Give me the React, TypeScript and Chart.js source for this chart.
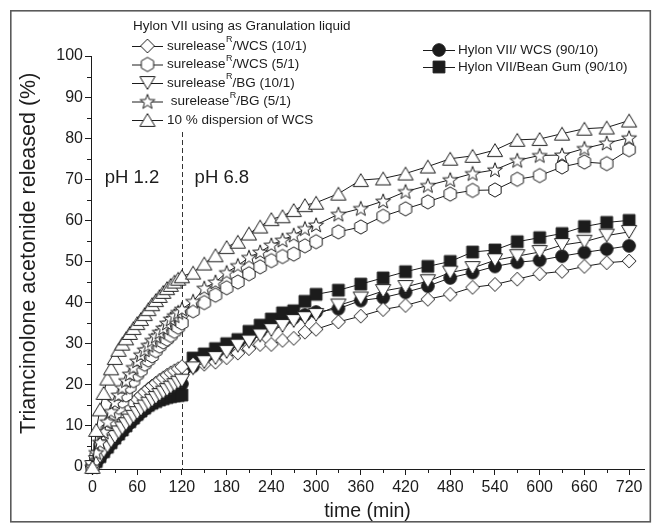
import React, { useEffect, useRef } from 'react';
import { Chart, registerables } from 'chart.js';

Chart.register(...registerables);

// ---------------- data ----------------
const timeMin = [
  0, 5, 10, 15, 20, 25, 30, 35, 40, 45, 50, 55, 60, 65, 70, 75, 80, 85, 90, 95, 100, 105, 110, 115, 120,
  135, 150, 165, 180, 195, 210, 225, 240, 255, 270, 285, 300,
  330, 360, 390, 420, 450, 480, 510, 540, 570, 600, 630, 660, 690, 720,
];

const sureleaseWcs10 = [
  0, 1.8, 3.5, 5, 6.8, 8, 9.5, 11, 12.3, 13.5, 14.5, 15.5, 16.5, 17.4, 18.2, 19, 19.7, 20.4, 21.1, 21.7, 22.3, 22.9, 23.4, 23.9, 24.4,
  25, 25, 25.5, 26.6, 27.7, 28.8, 29.8, 29.8, 30.8, 31.3, 32.8, 33.5,
  35.3, 36.7, 38.3, 39.3, 40.8, 42, 43.7, 44.4, 45.7, 47, 47.6, 48.8, 49.7, 50.1,
];

const sureleaseWcs5 = [
  0, 2.5, 5, 7, 9, 11, 13, 14.5, 16, 17.5, 19.5, 21, 22.5, 23.5, 25, 26, 27, 28.3, 29.4, 30.4, 31.1, 32, 33, 34, 35,
  38, 40, 41.8, 43.6, 45, 47, 48.7, 50.2, 51.2, 51.8, 53.8, 54.8,
  57.2, 58.4, 61, 62.8, 64.5, 66.4, 67.3, 67.4, 70, 70.9, 73, 74.2, 73.8, 77.2,
];

const sureleaseBg10 = [
  0, 1.2, 2.5, 3.8, 5, 6.2, 7.3, 8.4, 9.4, 10.4, 11.3, 12.2, 13.1, 13.9, 14.7, 15.4, 16.1, 16.8, 17.5, 18.1, 18.7, 19.3, 19.9, 20.5, 21,
  24, 25.5, 26.5, 28, 29.5, 30.5, 32, 33.3, 34.3, 35.5, 36.2, 37,
  39.3, 41, 42.8, 43.8, 45.2, 47.3, 48.4, 50.3, 51.3, 52.3, 54, 54.8, 56.3, 57.2,
];

const sureleaseBg5 = [
  0, 3.5, 6, 8.5, 11, 13.5, 15.8, 17.5, 19.3, 21, 22.6, 24.2, 25.8, 27.3, 28.5, 29.6, 30.8, 31.8, 32.8, 33.8, 35, 36, 36.8, 37.6, 38.4,
  40.3, 43.5, 45, 47.3, 49, 51, 52.3, 54, 55.2, 56.4, 58, 58.9,
  61.5, 62.9, 64.7, 67, 68.5, 69.9, 71.4, 72.3, 74.6, 75.8, 75.9, 77.5, 78.8, 80.1,
];

const dispersionWcs10 = [
  0, 9, 14, 18, 21.5, 24, 26.5, 28.5, 30, 31.3, 32.6, 33.8, 35, 36, 37.2, 38.4, 39.6, 40.6, 41.6, 42.6, 43.5, 44.3, 45.1, 45.8, 46.4,
  47.3, 49.5, 51.5, 53.5, 54.8, 56.8, 58.5, 60.3, 61, 62.5, 63.7, 64.3,
  66.5, 69.8, 70.2, 71.4, 73.1, 75, 75.7, 77.1, 79.6, 79.8, 81.1, 82.3, 82.6, 84.3,
];

const hylonWcs = [
  0, 1.1, 2.3, 3.5, 4.6, 5.7, 6.8, 7.8, 8.8, 9.8, 10.7, 11.6, 12.5, 13.3, 14.1, 14.8, 15.5, 16.2, 16.9, 17.5, 18.1, 18.7, 19.2, 19.7, 20.2,
  24.5, 26, 27.5, 29, 30.5, 31.5, 33, 34.5, 35.5, 36.3, 37, 37.7,
  38.5, 40.5, 41.2, 42.5, 44, 46, 47.3, 48.8, 49.8, 50.3, 51.3, 52.2, 53, 53.8,
];

const hylonBeanGum = [
  0, 1.3, 2.5, 3.7, 4.8, 5.9, 7, 8, 9, 10, 11, 11.9, 12.8, 13.6, 14.3, 15, 15.5, 15.9, 16.3, 16.6, 16.9, 17.1, 17.3, 17.4, 17.5,
  26.5, 27.5, 28.8, 30, 31, 33, 34.5, 36, 37.5, 38, 40.3, 42,
  43, 44.5, 46, 47.5, 48.8, 50, 52.3, 52.8, 54.8, 55.8, 56.8, 58.5, 59.5, 60,
];

// legend texts: [main, superscript, rest]
const legendTitle = 'Hylon VII using as Granulation liquid';
const labelWcs10 = ['surelease', 'R', '/WCS (10/1)'];
const labelWcs5 = ['surelease', 'R', '/WCS (5/1)'];
const labelBg10 = ['surelease', 'R', '/BG (10/1)'];
const labelBg5 = [' surelease', 'R', '/BG (5/1)'];
const labelDisp = ['10 % dispersion of WCS', '', ''];
const labelHylonWcs = ['Hylon VII/ WCS (90/10)', '', ''];
const labelHylonBg = ['Hylon VII/Bean Gum (90/10)', '', ''];

const xTitle = 'time (min)';
const yTitle = 'Triamcinolone acetonide released (%)';
const yTitleCenterValue = 52;
const phLabels = ['pH 1.2', 'pH 6.8'];
const phLabelX = [16.5, 137];
const phLabelY = 70.3;
const phBoundary = 120;
const dashTop = 81.5;

// ---------------- styles ----------------
const INK = '#1c1c1c';
const FONT = "'Liberation Sans', Arial, Helvetica, sans-serif";

function makeMarker(kind: string): HTMLCanvasElement {
  const S = 18;
  const c = document.createElement('canvas');
  c.width = S;
  c.height = S;
  const g = c.getContext('2d') as CanvasRenderingContext2D;
  const cx = S / 2;
  const cy = S / 2;
  g.lineWidth = 1;
  g.strokeStyle = INK;
  g.beginPath();
  let filled = false;
  if (kind === 'diamond') {
    const r = 6.9;
    g.moveTo(cx, cy - r);
    g.lineTo(cx + r, cy);
    g.lineTo(cx, cy + r);
    g.lineTo(cx - r, cy);
    g.closePath();
  } else if (kind === 'hexagon') {
    const r = 7.1;
    for (let i = 0; i < 6; i++) {
      const a = (-90 + 60 * i) * Math.PI / 180;
      const x = cx + r * Math.cos(a);
      const y = cy + r * Math.sin(a);
      if (i === 0) g.moveTo(x, y);
      else g.lineTo(x, y);
    }
    g.closePath();
  } else if (kind === 'triDown') {
    g.moveTo(cx - 7.6, cy - 6.4);
    g.lineTo(cx + 7.6, cy - 6.4);
    g.lineTo(cx, cy + 6.4);
    g.closePath();
  } else if (kind === 'triUp') {
    g.moveTo(cx, cy - 6.4);
    g.lineTo(cx + 7.6, cy + 6.4);
    g.lineTo(cx - 7.6, cy + 6.4);
    g.closePath();
  } else if (kind === 'star') {
    const ro = 7.8;
    const ri = 3.2;
    for (let i = 0; i < 10; i++) {
      const a = (-90 + 36 * i) * Math.PI / 180;
      const r = i % 2 === 0 ? ro : ri;
      const x = cx + r * Math.cos(a);
      const y = cy + 0.6 + r * Math.sin(a);
      if (i === 0) g.moveTo(x, y);
      else g.lineTo(x, y);
    }
    g.closePath();
  } else if (kind === 'circle') {
    g.arc(cx, cy, 6.3, 0, Math.PI * 2);
    filled = true;
  } else if (kind === 'square') {
    g.rect(cx - 5.9, cy - 5.9, 11.8, 11.8);
    filled = true;
  }
  g.fillStyle = filled ? INK : '#ffffff';
  g.fill();
  g.stroke();
  return c;
}

export default function App() {
  const ref = useRef<HTMLCanvasElement | null>(null);

  useEffect(() => {
    document.body.style.margin = '0';
    const canvas = ref.current;
    if (!canvas) return;

    const markers: Record<string, HTMLCanvasElement> = {
      diamond: makeMarker('diamond'),
      hexagon: makeMarker('hexagon'),
      triDown: makeMarker('triDown'),
      star: makeMarker('star'),
      triUp: makeMarker('triUp'),
      circle: makeMarker('circle'),
      square: makeMarker('square'),
    };

    const series = [
      { values: sureleaseWcs10, marker: 'diamond', label: labelWcs10, order: 5 },
      { values: sureleaseWcs5, marker: 'hexagon', label: labelWcs5, order: 4 },
      { values: sureleaseBg10, marker: 'triDown', label: labelBg10, order: 3 },
      { values: sureleaseBg5, marker: 'star', label: labelBg5, order: 2 },
      { values: dispersionWcs10, marker: 'triUp', label: labelDisp, order: 1 },
      { values: hylonWcs, marker: 'circle', label: labelHylonWcs, order: 7 },
      { values: hylonBeanGum, marker: 'square', label: labelHylonBg, order: 6 },
    ];

    const datasets = series.map((s) => ({
      label: s.label.join(''),
      data: timeMin.map((t, i) => ({ x: t, y: s.values[i] })),
      borderColor: INK,
      borderWidth: 1,
      backgroundColor: INK,
      pointStyle: markers[s.marker],
      pointRadius: 7,
      pointHoverRadius: 7,
      tension: 0,
      fill: false,
      clip: false as const,
      order: s.order,
    }));

    const decorPlugin = {
      id: 'decor',
      beforeDatasetsDraw(chart: any) {
        const ctx = chart.ctx as CanvasRenderingContext2D;
        const xs = chart.scales.x;
        const ys = chart.scales.y;
        const area = chart.chartArea;
        ctx.save();
        // minor ticks
        ctx.strokeStyle = INK;
        ctx.lineWidth = 1;
        ctx.beginPath();
        for (let v = 30; v < 740; v += 60) {
          const px = Math.round(xs.getPixelForValue(v)) + 0.5;
          ctx.moveTo(px, area.bottom);
          ctx.lineTo(px, area.bottom + 4);
        }
        for (let v = 5; v < 100; v += 10) {
          const py = Math.round(ys.getPixelForValue(v)) + 0.5;
          ctx.moveTo(area.left, py);
          ctx.lineTo(area.left - 4, py);
        }
        ctx.stroke();
        // dashed pH boundary
        const bx = Math.round(xs.getPixelForValue(phBoundary)) + 0.5;
        ctx.setLineDash([5, 3]);
        ctx.strokeStyle = '#333333';
        ctx.beginPath();
        ctx.moveTo(bx, ys.getPixelForValue(dashTop));
        ctx.lineTo(bx, area.bottom);
        ctx.stroke();
        ctx.setLineDash([]);
        // pH labels
        ctx.fillStyle = INK;
        ctx.font = `18.5px ${FONT}`;
        ctx.textBaseline = 'middle';
        ctx.textAlign = 'left';
        phLabels.forEach((t, i) => {
          ctx.fillText(t, xs.getPixelForValue(phLabelX[i]), ys.getPixelForValue(phLabelY));
        });
        // y axis title
        ctx.save();
        ctx.translate(29, ys.getPixelForValue(yTitleCenterValue));
        ctx.rotate(-Math.PI / 2);
        ctx.textAlign = 'center';
        ctx.font = `21.5px ${FONT}`;
        ctx.fillText(yTitle, 0, 0);
        ctx.restore();
        ctx.restore();
      },
      afterDraw(chart: any) {
        const ctx = chart.ctx as CanvasRenderingContext2D;
        ctx.save();
        // outer frame
        ctx.strokeStyle = '#5a5a5a';
        ctx.lineWidth = 1.6;
        ctx.strokeRect(10.8, 10.8, 639.5, 511);

        const drawLabel = (parts: string[], x: number, y: number) => {
          ctx.font = `13.5px ${FONT}`;
          ctx.fillText(parts[0], x, y);
          let cx = x + ctx.measureText(parts[0]).width;
          if (parts[1]) {
            ctx.font = `9px ${FONT}`;
            ctx.fillText(parts[1], cx + 0.5, y - 6);
            cx += ctx.measureText(parts[1]).width + 0.5;
          }
          if (parts[2]) {
            ctx.font = `13.5px ${FONT}`;
            ctx.fillText(parts[2], cx, y);
          }
        };
        const drawEntry = (marker: string, parts: string[], x0: number, x1: number, y: number, tx: number) => {
          ctx.strokeStyle = INK;
          ctx.lineWidth = 1;
          ctx.beginPath();
          ctx.moveTo(x0, y + 0.5);
          ctx.lineTo(x1, y + 0.5);
          ctx.stroke();
          const m = markers[marker];
          ctx.drawImage(m, (x0 + x1) / 2 - m.width / 2, y - m.height / 2);
          drawLabel(parts, tx, y);
        };

        ctx.fillStyle = INK;
        ctx.textBaseline = 'middle';
        ctx.textAlign = 'left';
        ctx.font = `13.5px ${FONT}`;
        ctx.fillText(legendTitle, 133, 26);
        const leftSeries = series.slice(0, 5);
        leftSeries.forEach((s, i) => {
          drawEntry(s.marker, s.label, 132, 163, 46 + i * 18.5, 167);
        });
        const rightSeries = series.slice(5);
        rightSeries.forEach((s, i) => {
          drawEntry(s.marker, s.label, 423, 455, 50 + i * 17, 458);
        });
        ctx.restore();
      },
    };

    const chart = new Chart(canvas, {
      type: 'line',
      data: { datasets },
      options: {
        responsive: false,
        animation: false,
        events: [],
        layout: { padding: { top: 56, right: 7, left: 0, bottom: 0 } },
        plugins: {
          legend: { display: false },
          tooltip: { enabled: false },
          title: { display: false },
        },
        scales: {
          x: {
            type: 'linear',
            min: -2,
            max: 740,
            afterFit: (s: any) => { s.height = 54; },
            ticks: {
              stepSize: 60,
              includeBounds: false,
              autoSkip: false,
              maxRotation: 0,
              padding: 3,
              color: INK,
              font: { family: FONT, size: 16 },
            },
            grid: {
              display: true,
              drawOnChartArea: false,
              drawTicks: true,
              tickLength: 6,
              tickColor: INK,
              color: INK,
            },
            border: { display: true, color: INK, width: 1 },
            title: {
              display: true,
              text: xTitle,
              color: INK,
              font: { family: FONT, size: 19.5 },
              padding: { top: 0, bottom: 0 },
            },
          },
          y: {
            type: 'linear',
            min: -0.5,
            max: 100,
            afterFit: (s: any) => { s.width = 91; },
            ticks: {
              stepSize: 10,
              includeBounds: false,
              autoSkip: false,
              padding: 2,
              color: INK,
              font: { family: FONT, size: 16 },
            },
            grid: {
              display: true,
              drawOnChartArea: false,
              drawTicks: true,
              tickLength: 6,
              tickColor: INK,
              color: INK,
            },
            border: { display: true, color: INK, width: 1 },
            title: { display: false, text: yTitle },
          },
        },
      },
      plugins: [decorPlugin],
    });

    return () => {
      chart.destroy();
    };
  }, []);

  return (
    <div style={{ position: 'absolute', left: 0, top: 0, width: 652, height: 523, background: '#ffffff' }}>
      <canvas ref={ref} width={652} height={523} style={{ display: 'block', width: 652, height: 523 }} />
    </div>
  );
}
